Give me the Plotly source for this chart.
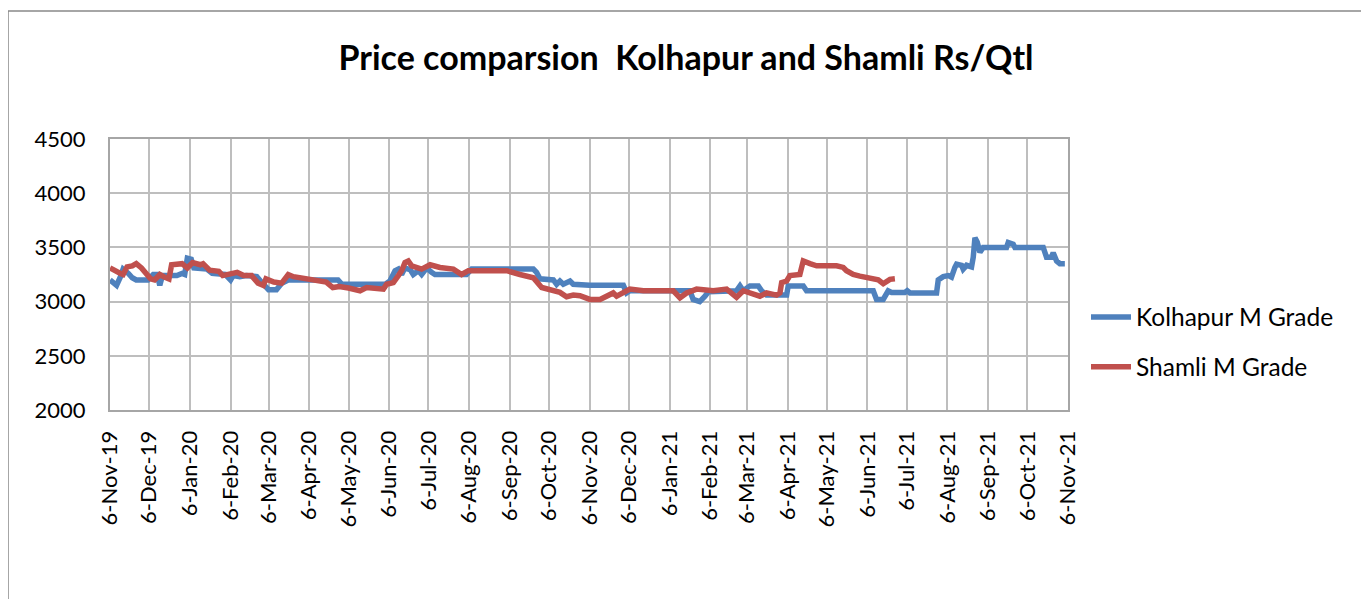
import pandas as pd
import plotly.graph_objects as go

base_date = "2019-11-06"

kolhapur_days = [0, 4, 5, 8, 10, 14, 17, 20, 29, 33, 36, 38, 40, 51, 55, 57, 59, 62, 64, 74, 78, 88, 92, 94,
                 99, 104, 112, 117, 121, 127, 131, 136, 174, 177, 210, 213.6, 217.5, 220, 222.5, 225, 229,
                 231.4, 235.3, 237.8, 241.6, 245.4, 248, 272, 276, 323, 325.5, 328, 338.3, 340.8, 343.3,
                 345.9, 351, 353.5, 366, 391.7, 394.2, 396.7, 442.5, 445, 450, 454, 456.5, 478, 480.7,
                 483.2, 488.3, 494.7, 497.2, 501, 516.3, 517.5, 529, 531.5, 582.4, 584.9, 590, 593.8,
                 596.4, 606.5, 608.3, 610.4, 630.7, 632, 635.8, 639.6, 642.1, 644.7, 646, 649.8, 651,
                 653.6, 657.4, 658.7, 660, 661.7, 663.8, 666.3, 684.1, 685.4, 689.2, 690.5, 712.1, 714.6,
                 718.4, 719.7, 722.3, 724.8, 728.6]
kolhapur_values = [3200, 3170, 3150, 3230, 3300, 3260, 3220, 3200, 3200, 3250, 3250, 3150, 3240, 3240, 3260,
                   3250, 3400, 3390, 3310, 3300, 3260, 3250, 3200, 3240, 3230, 3240, 3230, 3160, 3110, 3110,
                   3170, 3200, 3200, 3160, 3160, 3190, 3285, 3300, 3250, 3310, 3295, 3250, 3285, 3250, 3310,
                   3270, 3250, 3250, 3300, 3300, 3270, 3210, 3200, 3160, 3190, 3160, 3190, 3160, 3150, 3150,
                   3080, 3100, 3100, 3020, 3000, 3050, 3090, 3100, 3145, 3100, 3145, 3145, 3100, 3060, 3060,
                   3145, 3145, 3100, 3100, 3020, 3020, 3100, 3085, 3085, 3100, 3080, 3080, 3200, 3230, 3240,
                   3225, 3315, 3345, 3335, 3300, 3335, 3320, 3410, 3590, 3550, 3455, 3500, 3500, 3545, 3530,
                   3500, 3500, 3410, 3410, 3450, 3375, 3350, 3350]

shamli_days = [0, 4, 8, 10, 13, 17, 20, 24, 28, 31, 34, 38, 41, 45, 47, 55, 59, 63, 69, 71, 76, 83, 86, 92,
               97, 102, 108, 113, 117, 119, 125, 131, 136, 140, 150, 160, 165, 170, 175, 182, 190.8, 195.8,
               208.6, 211.1, 216.2, 220, 222.5, 225.1, 227.6, 230.2, 237.8, 244.2, 251.8, 262, 268.3, 273.4,
               302.7, 312.8, 323, 329.4, 338.3, 343.3, 348.4, 353.5, 358.6, 366.2, 373.9, 378.9, 384, 386.6,
               391.7, 396.7, 407, 419.6, 429.8, 434.9, 440, 447.6, 460.3, 470.5, 478.1, 483.2, 490.8, 495.9,
               501, 508.6, 511.2, 512.5, 516.3, 518.8, 526.4, 529, 534.1, 539.2, 554.4, 559.5, 562, 567.1,
               572.2, 577.3, 582.4, 586.2, 590, 592.6, 595.1, 598.9]
shamli_values = [3310, 3280, 3260, 3250, 3320, 3330, 3350, 3310, 3260, 3210, 3200, 3250, 3230, 3210, 3340,
                 3350, 3310, 3360, 3340, 3350, 3290, 3280, 3240, 3250, 3270, 3240, 3240, 3170, 3150, 3210,
                 3180, 3170, 3250, 3230, 3210, 3200, 3180, 3130, 3140, 3125, 3100, 3130, 3115, 3160, 3175,
                 3240, 3285, 3360, 3375, 3330, 3300, 3340, 3315, 3300, 3250, 3285, 3285, 3250, 3220, 3130,
                 3100, 3085, 3045, 3060, 3055, 3020, 3020, 3050, 3080, 3050, 3080, 3115, 3100, 3100, 3100,
                 3035, 3080, 3115, 3100, 3115, 3040, 3100, 3075, 3050, 3080, 3060, 3080, 3175, 3190, 3240,
                 3250, 3375, 3350, 3330, 3330, 3315, 3285, 3250, 3235, 3220, 3210, 3200, 3165, 3185, 3205,
                 3210]

tick_dates = ["2019-11-06", "2019-12-06", "2020-01-06", "2020-02-06", "2020-03-06", "2020-04-06",
              "2020-05-06", "2020-06-06", "2020-07-06", "2020-08-06", "2020-09-06", "2020-10-06",
              "2020-11-06", "2020-12-06", "2021-01-06", "2021-02-06", "2021-03-06", "2021-04-06",
              "2021-05-06", "2021-06-06", "2021-07-06", "2021-08-06", "2021-09-06", "2021-10-06",
              "2021-11-06"]
tick_labels = ["6-Nov-19", "6-Dec-19", "6-Jan-20", "6-Feb-20", "6-Mar-20", "6-Apr-20", "6-May-20",
               "6-Jun-20", "6-Jul-20", "6-Aug-20", "6-Sep-20", "6-Oct-20", "6-Nov-20", "6-Dec-20",
               "6-Jan-21", "6-Feb-21", "6-Mar-21", "6-Apr-21", "6-May-21", "6-Jun-21", "6-Jul-21",
               "6-Aug-21", "6-Sep-21", "6-Oct-21", "6-Nov-21"]

b = pd.Timestamp(base_date)
k_dates = [b + pd.Timedelta(days=d) for d in kolhapur_days]
s_dates = [b + pd.Timedelta(days=d) for d in shamli_days]

FONT = "Lato"
fig = go.Figure()
fig.add_trace(go.Scatter(x=k_dates, y=kolhapur_values, mode="lines", name="Kolhapur M Grade",
                         line=dict(color="#4F81BD", width=5.5), legendgroup="a"))
fig.add_trace(go.Scatter(x=s_dates, y=shamli_values, mode="lines", name="Shamli M Grade",
                         line=dict(color="#C0504D", width=5.5), legendgroup="b"))

OFF = 8  # page body margin
W, H = 1369 - OFF, 599 - OFF
L, R, T, B = 110 - OFF, 1068 - OFF, 139 - OFF, 410 - OFF
pw, ph = R - L, B - T

def px(xp):
    return (xp - OFF - L) / pw

def py(yp):
    return (B - (yp - OFF)) / ph

fig.update_layout(
    width=W, height=H,
    margin=dict(l=L, r=W - R, t=T, b=H - B, autoexpand=False),
    paper_bgcolor="white", plot_bgcolor="white",
    font=dict(family=FONT, color="black", size=22),
    title=dict(text="<b>Price comparsion  Kolhapur and Shamli Rs/Qtl</b>", xref="container",
               x=(686 - OFF) / W, xanchor="center", yref="container", y=1 - (58 - OFF) / H,
               yanchor="middle", font=dict(size=34, family=FONT)),
    xaxis=dict(type="date", range=["2019-11-06", "2021-11-06"], tickvals=tick_dates, ticktext=tick_labels,
               tickangle=-90, showgrid=True, gridcolor="#BEBEBE", gridwidth=2, showline=True,
               linecolor="#A6A6A6", linewidth=2, mirror=True, ticks="", ticklabelstandoff=10,
               tickfont=dict(size=22), zeroline=False),
    yaxis=dict(range=[2000, 4500], dtick=500, showgrid=True, gridcolor="#BEBEBE", gridwidth=2,
               showline=True, linecolor="#A6A6A6", linewidth=2, mirror=True, ticks="",
               ticklabelstandoff=18, tickfont=dict(size=22), zeroline=False),
    legend=dict(x=px(1086), xanchor="left", y=py(342), yanchor="middle", font=dict(size=24.5),
                traceorder="grouped", tracegroupgap=15, bgcolor="rgba(0,0,0,0)", itemwidth=40),
    showlegend=True,
    shapes=[dict(type="rect", xref="paper", yref="paper", x0=px(8), x1=px(1363), y0=py(640), y1=py(11),
                 line=dict(color="#898989", width=1.5), fillcolor="rgba(0,0,0,0)", layer="below")],
)

fig.write_html("out.html")
